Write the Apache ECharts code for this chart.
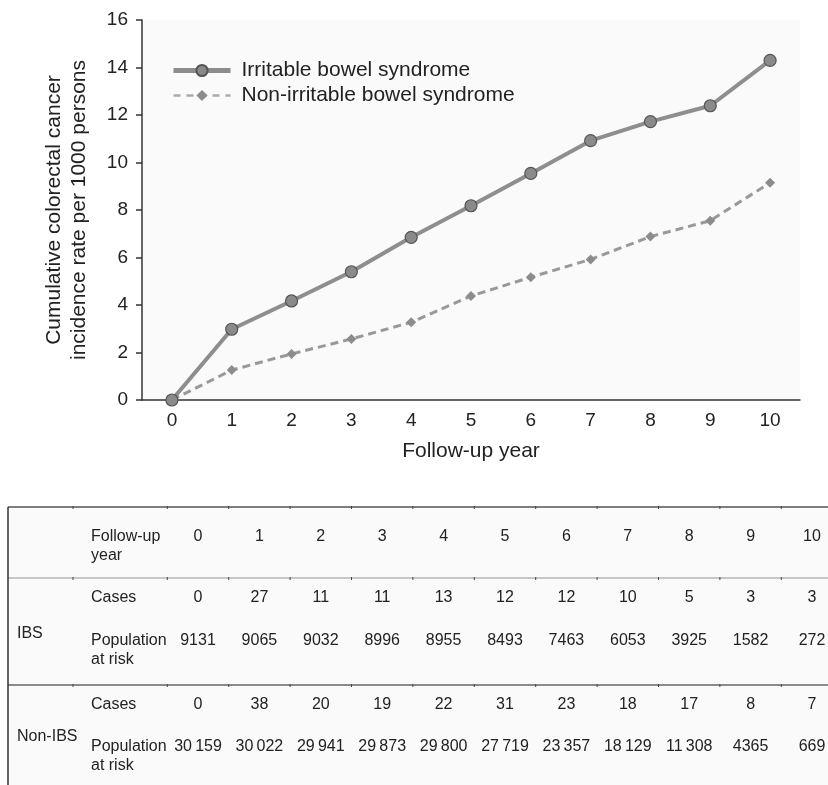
<!DOCTYPE html>
<html><head><meta charset="utf-8">
<script src="https://cdn.jsdelivr.net/npm/echarts@6/dist/echarts.min.js"></script>
<style>html,body{margin:0;padding:0;background:#fff}#c{width:828px;height:785px}</style>
</head><body><div id="c"></div>
<script>
// ---- data ----
const years = ['0','1','2','3','4','5','6','7','8','9','10'];
const seriesNames = ['Irritable bowel syndrome', 'Non-irritable bowel syndrome'];
const ibsRate = [0, 2.98, 4.17, 5.40, 6.85, 8.18, 9.54, 10.92, 11.72, 12.39, 14.30];
const nonIbsRate = [0, 1.26, 1.94, 2.57, 3.27, 4.38, 5.17, 5.92, 6.88, 7.55, 9.15];
const yMin = 0, yMax = 16, yStep = 2;
const ibsCases = [0, 27, 11, 11, 13, 12, 12, 10, 5, 3, 3];
const ibsPop = [9131, 9065, 9032, 8996, 8955, 8493, 7463, 6053, 3925, 1582, 272];
const nonIbsCases = [0, 38, 20, 19, 22, 31, 23, 18, 17, 8, 7];
const nonIbsPop = [30159, 30022, 29941, 29873, 29800, 27719, 23357, 18129, 11308, 4365, 669];
const tableHeader = 'Follow-up\nyear';
const groupLabels = ['IBS', 'Non-IBS'];
const rowLabels = ['Cases', 'Population\nat risk'];

const FONT = '"Liberation Sans", Arial, Helvetica, sans-serif';
const fmt = n => n >= 10000 ? String(n).replace(/\B(?=(\d{3})+(?!\d))/g, '\u2009') : String(n);

const chart = echarts.init(document.getElementById('c'), null, {renderer: 'canvas'});
const option = {
  backgroundColor: '#ffffff',
  animation: false,
  textStyle: {fontFamily: FONT},
  legend: {
    orient: 'vertical', left: 166, top: 55,
    itemWidth: 57, itemHeight: 14, itemGap: 4,
    textStyle: {fontSize: 21, color: '#222', fontFamily: FONT, padding: [0, 0, 0, 6]},
    data: [
      {name: seriesNames[0], lineStyle: {width: 5, color: '#8c8c8c'}},
      {name: seriesNames[1], lineStyle: {width: 2.5, color: '#aaa', type: [7, 6]}}
    ]
  },
  grid: [
    {left: 142, top: 20, width: 658, height: 380, show: true, backgroundColor: '#fafafa', borderWidth: 0},
    {left: 198, right: 16, top: 507, bottom: 0, show: false}
  ],
  xAxis: [{
    gridIndex: 0, type: 'category', data: years, boundaryGap: true,
    axisLine: {lineStyle: {color: '#333', width: 1.5}},
    axisTick: {inside: true, length: 6, lineStyle: {color: '#333', width: 1.5}},
    axisLabel: {fontSize: 19, color: '#222', margin: 11, fontFamily: FONT},
    name: 'Follow-up year', nameLocation: 'middle', nameGap: 41,
    nameTextStyle: {fontSize: 21, color: '#222', fontFamily: FONT}
  }, {
    gridIndex: 1, type: 'value', min: 0, max: 10, show: false
  }],
  yAxis: [{
    gridIndex: 0, type: 'value', min: yMin, max: yMax, interval: yStep,
    axisLine: {show: true, lineStyle: {color: '#333', width: 1.5}},
    axisTick: {show: true, length: 6, lineStyle: {color: '#333', width: 1.5}},
    axisLabel: {fontSize: 19, color: '#222', margin: 14, fontFamily: FONT},
    splitLine: {show: false},
    name: 'Cumulative colorectal cancer\nincidence rate per 1000 persons',
    nameLocation: 'middle', nameRotate: 90, nameGap: 50,
    nameTextStyle: {fontSize: 21, color: '#222', lineHeight: 25, fontFamily: FONT}
  }, {
    gridIndex: 1, type: 'value', min: 0, max: 1, show: false
  }],
  series: [{
    name: seriesNames[0], type: 'line', data: ibsRate,
    xAxisIndex: 0, yAxisIndex: 0,
    symbol: 'circle', symbolSize: 12,
    lineStyle: {color: '#8e8e8e', width: 4},
    itemStyle: {color: '#8a8a8a', borderColor: '#555', borderWidth: 1.2},
    z: 3
  }, {
    name: seriesNames[1], type: 'line', data: nonIbsRate,
    xAxisIndex: 0, yAxisIndex: 0,
    symbol: 'diamond', symbolSize: 10,
    lineStyle: {color: '#999', width: 3, type: [8, 5]},
    itemStyle: {color: '#8c8c8c'},
    z: 2
  }]
};
chart.setOption(option);

// ---- table below the chart ----
const colX = i => chart.convertToPixel({xAxisIndex: 1}, i);
const step = colX(1) - colX(0);
const W = 828, tableTop = 507, tableLeft = 8;
const line1 = 578, line2 = 685;
const rowY = {header: 537, ibsCases: 598, ibsGroup: 634, ibsPop: 641, nonCases: 705, nonGroup: 737, nonPop: 747};
const labelX = 91, groupX = 17;
const g = [];
g.push({type: 'rect', shape: {x: tableLeft, y: tableTop, width: W - tableLeft, height: 785 - tableTop}, style: {fill: '#fafafa'}, z: 0});
const hline = (y, color) => g.push({type: 'line', shape: {x1: tableLeft, y1: y, x2: W, y2: y}, style: {stroke: color, lineWidth: 1.5}, z: 2});
hline(tableTop, '#555');
hline(line1, '#b5b5b5');
hline(line2, '#666');
g.push({type: 'line', shape: {x1: tableLeft, y1: tableTop, x2: tableLeft, y2: 785}, style: {stroke: '#333', lineWidth: 1.5}, z: 2});
const tickXs = [73, colX(0) - step / 2];
for (let i = 0; i < years.length - 1; i++) tickXs.push(colX(i) + step / 2);
[tableTop, line1, line2].forEach(y => tickXs.forEach(x => g.push({type: 'line', shape: {x1: x, y1: y - 1, x2: x, y2: y + 2}, style: {stroke: '#444', lineWidth: 1}, z: 3})));
const txt = (text, x, y, align, vAlign) => g.push({type: 'text', x: x, y: y, z: 4,
  style: {text: text, fill: '#222', font: '16px ' + FONT, align: align, verticalAlign: vAlign || 'middle', lineHeight: 19}});
txt(tableHeader, labelX, rowY.header - 9.5, 'left', 'top');
txt(rowLabels[0], labelX, rowY.ibsCases, 'left');
txt(rowLabels[1], labelX, rowY.ibsPop - 9.5, 'left', 'top');
txt(rowLabels[0], labelX, rowY.nonCases, 'left');
txt(rowLabels[1], labelX, rowY.nonPop - 9.5, 'left', 'top');
txt(groupLabels[0], groupX, rowY.ibsGroup, 'left');
txt(groupLabels[1], groupX, rowY.nonGroup, 'left');
years.forEach((yr, i) => {
  const x = colX(i);
  txt(yr, x, rowY.header, 'center');
  txt(fmt(ibsCases[i]), x, rowY.ibsCases, 'center');
  txt(fmt(ibsPop[i]), x, rowY.ibsPop, 'center');
  txt(fmt(nonIbsCases[i]), x, rowY.nonCases, 'center');
  txt(fmt(nonIbsPop[i]), x, rowY.nonPop, 'center');
});
chart.setOption({graphic: g});
</script></body></html>
